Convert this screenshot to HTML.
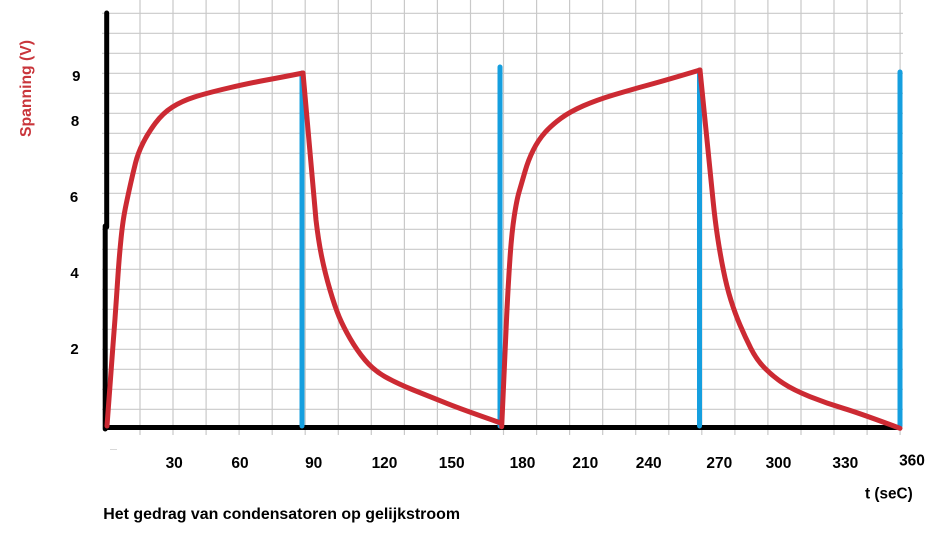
<!DOCTYPE html>
<html>
<head>
<meta charset="utf-8">
<style>
  html, body { margin:0; padding:0; background:#ffffff; }
  body { width:943px; height:535px; overflow:hidden; }
  svg { display:block; }
  text { font-family:"Liberation Sans", Arial, sans-serif; font-weight:bold; }
</style>
</head>
<body>
<svg width="943" height="535" viewBox="0 0 943 535" xmlns="http://www.w3.org/2000/svg">
  <rect x="0" y="0" width="943" height="535" fill="#ffffff"/>

  <!-- grid: horizontal lines -->
  <g stroke="#c9c9c9" stroke-width="1.2" fill="none">
    <line x1="102" y1="13.3" x2="903" y2="13.3"/>
    <line x1="102" y1="33.3" x2="903" y2="33.3"/>
    <line x1="102" y1="53.3" x2="903" y2="53.3"/>
    <line x1="102" y1="73.3" x2="903" y2="73.3"/>
    <line x1="102" y1="93.3" x2="903" y2="93.3"/>
    <line x1="102" y1="113.3" x2="903" y2="113.3"/>
    <line x1="102" y1="133.3" x2="903" y2="133.3"/>
    <line x1="102" y1="153.3" x2="903" y2="153.3"/>
    <line x1="102" y1="173.3" x2="903" y2="173.3"/>
    <line x1="102" y1="193.3" x2="903" y2="193.3"/>
    <line x1="102" y1="213.3" x2="903" y2="213.3"/>
    <line x1="102" y1="229.3" x2="903" y2="229.3"/>
    <line x1="102" y1="249.3" x2="903" y2="249.3"/>
    <line x1="102" y1="269.3" x2="903" y2="269.3"/>
    <line x1="102" y1="289.3" x2="903" y2="289.3"/>
    <line x1="102" y1="309.3" x2="903" y2="309.3"/>
    <line x1="102" y1="329.3" x2="903" y2="329.3"/>
    <line x1="102" y1="349.3" x2="903" y2="349.3"/>
    <line x1="102" y1="369.3" x2="903" y2="369.3"/>
    <line x1="102" y1="389.3" x2="903" y2="389.3"/>
    <line x1="102" y1="409.3" x2="903" y2="409.3"/>
  </g>
  <!-- grid: vertical lines -->
  <g stroke="#c9c9c9" stroke-width="1.2" fill="none">
    <line x1="140.0" y1="0" x2="140.0" y2="435"/>
    <line x1="173.0" y1="0" x2="173.0" y2="435"/>
    <line x1="206.1" y1="0" x2="206.1" y2="435"/>
    <line x1="239.1" y1="0" x2="239.1" y2="435"/>
    <line x1="272.2" y1="0" x2="272.2" y2="435"/>
    <line x1="305.2" y1="0" x2="305.2" y2="435"/>
    <line x1="338.3" y1="0" x2="338.3" y2="435"/>
    <line x1="371.3" y1="0" x2="371.3" y2="435"/>
    <line x1="404.4" y1="0" x2="404.4" y2="435"/>
    <line x1="437.4" y1="0" x2="437.4" y2="435"/>
    <line x1="470.5" y1="0" x2="470.5" y2="435"/>
    <line x1="503.5" y1="0" x2="503.5" y2="435"/>
    <line x1="536.6" y1="0" x2="536.6" y2="435"/>
    <line x1="569.6" y1="0" x2="569.6" y2="435"/>
    <line x1="602.7" y1="0" x2="602.7" y2="435"/>
    <line x1="635.7" y1="0" x2="635.7" y2="435"/>
    <line x1="668.8" y1="0" x2="668.8" y2="435"/>
    <line x1="701.8" y1="0" x2="701.8" y2="435"/>
    <line x1="734.9" y1="0" x2="734.9" y2="435"/>
    <line x1="767.9" y1="0" x2="767.9" y2="435"/>
    <line x1="801.0" y1="0" x2="801.0" y2="435"/>
    <line x1="834.0" y1="0" x2="834.0" y2="435"/>
    <line x1="867.1" y1="0" x2="867.1" y2="435"/>
    <line x1="900.1" y1="0" x2="900.1" y2="435"/>
  </g>

  <!-- axes -->
  <g stroke="#000000" stroke-width="5" stroke-linecap="round" fill="none">
    <line x1="106.7" y1="13" x2="106.7" y2="227"/>
    <line x1="105.2" y1="226" x2="105.2" y2="429"/>
    <line x1="104" y1="427.5" x2="900" y2="427.5" stroke-linecap="butt"/>
  </g>

  <!-- blue vertical lines -->
  <g stroke="#159fdf" stroke-width="5" stroke-linecap="round" fill="none">
    <line x1="302" y1="73" x2="302" y2="426"/>
    <line x1="500" y1="67" x2="500" y2="426"/>
    <line x1="699.5" y1="70" x2="699.5" y2="426"/>
    <line x1="900" y1="72" x2="900" y2="426"/>
  </g>

  <!-- red curve -->
  <g stroke="#cc2a33" stroke-width="5" stroke-linecap="round" stroke-linejoin="round" fill="none">
    <path d="M107,426 Q111,370 113,345 Q115,320 116.65,295 Q118.3,270 119.15,259.5 Q120,249 121,239 Q122,229 123.15,221 Q124.3,213 126.3,203.5 Q128.3,194 130.65,183.5 Q133,173 135.5,163 Q138,153 143,143 Q148,133 155.5,123 Q163,113 172.5,107 Q182,101 194.5,97 Q207,93 228.5,88 Q250,83 266.5,80 Q283,77 303,73"/>
    <path d="M303,73 L316,220 Q318.3,240 321.65,256.5 Q325,273 330,290 Q335,307 339.15,316.85 Q343.3,326.7 350,338.35 Q356.7,350 365,360 Q373.3,370 385,376.65 Q396.7,383.3 413.35,390 Q430,396.7 446.65,403.35 Q463.3,410 500,422.7"/>
    <path d="M501.7,426.7 Q505,350 506.65,316.5 Q508.3,283 510,258 Q511.7,233 514.2,216.5 Q516.7,200 519.2,191.5 Q521.7,183 525,171.5 Q528.3,160 533.3,150 Q538.3,140 545,132.5 Q551.7,125 560.85,118.35 Q570,111.7 583.35,105.85 Q596.7,100 613.35,95 Q630,90 648.35,85 Q666.7,80 700,70"/>
    <path d="M700,70 L713,200 Q715,220 717.5,236.65 Q720,253.3 723.35,270 Q726.7,286.7 730.85,300 Q735,313.3 740,325 Q745,336.7 750.85,348.35 Q756.7,360 765,368.35 Q773.3,376.7 783.3,383.35 Q793.3,390 810,396.65 Q826.7,403.3 843.35,408.3 Q860,413.3 900,428.3"/>
  </g>

  <!-- small faint dash -->
  <line x1="110" y1="449.5" x2="117" y2="449.5" stroke="#d8d8d8" stroke-width="1"/>

  <!-- y-axis title -->
  <text transform="translate(30.8,88.5) rotate(-90)" text-anchor="middle" font-size="15.5" fill="#c9353b" textLength="97" lengthAdjust="spacingAndGlyphs">Spanning (V)</text>

  <!-- y tick labels -->
  <g font-size="15" fill="#000000" text-anchor="middle">
    <text x="76.3" y="81">9</text>
    <text x="75" y="126">8</text>
    <text x="74" y="202">6</text>
    <text x="74.5" y="278">4</text>
    <text x="74.5" y="354">2</text>
  </g>

  <!-- x tick labels -->
  <g font-size="15.5" fill="#000000" text-anchor="middle">
    <text x="174.2" y="468">30</text>
    <text x="240" y="468">60</text>
    <text x="313.7" y="468">90</text>
    <text x="384.5" y="468">120</text>
    <text x="451.7" y="468">150</text>
    <text x="522.5" y="468">180</text>
    <text x="585.3" y="468">210</text>
    <text x="648.7" y="468">240</text>
    <text x="719.3" y="468">270</text>
    <text x="778.5" y="468">300</text>
    <text x="845.3" y="468">330</text>
    <text x="912" y="465.5">360</text>
  </g>

  <!-- x-axis title -->
  <text x="865" y="498.5" font-size="15.5" fill="#000000" textLength="47.7" lengthAdjust="spacingAndGlyphs">t (seC)</text>

  <!-- caption -->
  <text x="103.3" y="519" font-size="16" fill="#000000" textLength="356.7" lengthAdjust="spacingAndGlyphs">Het gedrag van condensatoren op gelijkstroom</text>
</svg>
</body>
</html>
